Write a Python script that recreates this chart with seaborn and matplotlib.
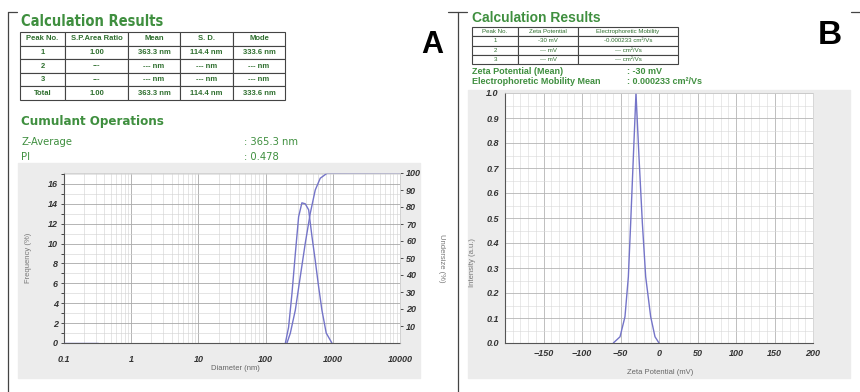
import numpy as np
import pandas as pd
import matplotlib
matplotlib.use("Agg")
import matplotlib.pyplot as plt
import seaborn as sns
from matplotlib.lines import Line2D
from matplotlib.patches import Rectangle
from matplotlib.ticker import MultipleLocator, LogLocator, NullFormatter
from matplotlib import font_manager

# ---- data ----
# A: particle size distribution
freq_size = [197, 220, 247, 277, 310, 347, 389, 437, 490, 548, 614, 689, 798, 970]
freq_val = [0.0, 1.6, 5.0, 9.0, 12.7, 14.1, 14.0, 13.4, 10.7, 8.3, 5.7, 3.3, 1.0, 0.0]
cum_size = [208, 233, 277, 328, 389, 462, 548, 650, 817, 10000]
cum_val = [0.0, 5.7, 19.4, 39.0, 58.6, 76.3, 90.0, 96.9, 99.8, 100.0]
cum_low_size = [0.1, 0.32]
cum_low_val = [0.0, 0.0]

size_ticks = [0.1, 1, 10, 100, 1000, 10000]
size_labels = ["0.1", "1", "10", "100", "1000", "10000"]

peak_cols = ["Peak No.", "S.P.Area Ratio", "Mean", "S. D.", "Mode"]
peak_rows = [
    ["1", "1.00", "363.3 nm", "114.4 nm", "333.6 nm"],
    ["2", "---", "--- nm", "--- nm", "--- nm"],
    ["3", "---", "--- nm", "--- nm", "--- nm"],
    ["Total", "1.00", "363.3 nm", "114.4 nm", "333.6 nm"],
]
z_average = "365.3 nm"
pdi = "0.478"

# B: zeta potential distribution
zeta_mv = [-59.3, -50.6, -44.2, -39.8, -36.8, -33.3, -29.9, -26.0, -21.6, -17.3, -10.8, -5.2, 0.0]
zeta_int = [0.0, 0.025, 0.105, 0.265, 0.479, 0.745, 1.0, 0.745, 0.479, 0.265, 0.105, 0.025, 0.0]

zeta_cols = ["Peak No.", "Zeta Potential", "Electrophoretic Mobility"]
zeta_rows = [
    ["1", "-30 mV", "-0.000233 cm\u00b2/Vs"],
    ["2", "--- mV", "--- cm\u00b2/Vs"],
    ["3", "--- mV", "--- cm\u00b2/Vs"],
]
zeta_mean = "-30 mV"
mobility_mean = "0.000233 cm\u00b2/Vs"

# ---- style ----
sns.set_style("white")
plt.rcParams['font.family'] = ['Liberation Sans', 'DejaVu Sans']

W, H = 860, 392
GREEN = '#3f8f3f'
LINE = '#7474c8'
TICK = '#333333'

# a narrow face for panel A's header, if one is installed
names = {f.name for f in font_manager.fontManager.ttflist}
if 'Liberation Sans Narrow' in names:
    NARROW = dict(family='Liberation Sans Narrow')
else:
    NARROW = dict(family='DejaVu Sans', fontstretch='condensed')

fig = plt.figure(figsize=(W / 100, H / 100), dpi=100)
fig.patch.set_facecolor('white')


def fx(x):
    return x / W


def fy(y):
    return 1 - y / H


def box(x0, y0, x1, y1):
    return [fx(x0), fy(y1), fx(x1 - x0), (y1 - y0) / H]


def txt(x, y, s, **kw):
    kw.setdefault('va', 'center')
    return fig.text(fx(x), fy(y), s, **kw)


def line(xs, ys, **kw):
    fig.add_artist(Line2D([fx(v) for v in xs], [fy(v) for v in ys],
                          transform=fig.transFigure, color='#444444', lw=0.9, **kw))


# grey panels behind the charts
for (x0, y0, x1, y1) in [(18, 163, 420, 378), (468, 90, 850, 378)]:
    fig.add_artist(Rectangle((fx(x0), fy(y1)), fx(x1 - x0), (y1 - y0) / H,
                             transform=fig.transFigure, color='#ececec', zorder=-5))

# panel frames
line([8, 8], [12, 392])
line([8, 17], [12, 12])
line([458, 458], [12, 392])
line([448, 467], [12, 12])
line([851, 860], [12, 12])


def style_ticks(ax):
    for lab in ax.get_xticklabels() + ax.get_yticklabels():
        lab.set_fontsize(6.5)
        lab.set_fontweight('bold')
        lab.set_fontstyle('italic')
        lab.set_color(TICK)
    ax.tick_params(length=2.5, width=0.6, colors=TICK, pad=2)


def style_spines(ax):
    for s in ['top', 'right']:
        ax.spines[s].set_color('#cfcfcf')
        ax.spines[s].set_linewidth(0.5)
    for s in ['left', 'bottom']:
        ax.spines[s].set_color('#555555')
        ax.spines[s].set_linewidth(0.8)


# ================= A =================
txt(21, 22, "Calculation Results", color=GREEN, fontsize=10.5, fontweight='bold', **NARROW)

tA = fig.add_axes(box(20, 32, 285, 100))
tA.axis('off')
tab = tA.table(cellText=peak_rows, colLabels=peak_cols, bbox=[0, 0, 1, 1],
               cellLoc='center', colWidths=[45, 63, 52, 53, 52])
tab.auto_set_font_size(False)
tab.set_fontsize(5.5)
for cell in tab.get_celld().values():
    cell.set_edgecolor('#444444')
    cell.set_linewidth(0.8)
    cell.get_text().set_color('#2f6f2f')
    cell.get_text().set_fontweight('bold')

txt(21, 122, "Cumulant Operations", color=GREEN, fontsize=9.5, fontweight='bold', **NARROW)
txt(21, 142, "Z-Average", color=GREEN, fontsize=8, **NARROW)
txt(244, 142, ": " + z_average, color=GREEN, fontsize=8, **NARROW)
txt(21, 157, "PI", color=GREEN, fontsize=8, **NARROW)
txt(244, 157, ": " + pdi, color=GREEN, fontsize=8, **NARROW)
txt(421, 45, "A", color='black', fontsize=22, fontweight='bold')

axA = fig.add_axes(box(64, 173, 400, 343))
axA.set_facecolor('white')
sns.lineplot(x=freq_size, y=freq_val, ax=axA, color=LINE, lw=1.0)
axA.set_xscale('log')
axA.set_xlim(0.1, 10000)
axA.set_ylim(0, 17.1)
axA.set_xticks(size_ticks)
axA.set_xticklabels(size_labels)
axA.xaxis.set_minor_locator(LogLocator(base=10, subs=np.arange(2, 10)))
axA.xaxis.set_minor_formatter(NullFormatter())
axA.set_yticks(np.arange(0, 17, 2))
axA.yaxis.set_minor_locator(MultipleLocator(1))
axA.grid(True, which='major', color='#a8a8a8', lw=0.6)
axA.grid(True, which='minor', color='#d2d2d2', lw=0.4)
axA.set_xlabel("")
axA.set_ylabel("")
style_ticks(axA)
axA.tick_params(axis='x', pad=6)
style_spines(axA)

axA2 = axA.twinx()
sns.lineplot(x=cum_size, y=cum_val, ax=axA2, color=LINE, lw=1.0)
sns.lineplot(x=cum_low_size, y=cum_low_val, ax=axA2, color=LINE, lw=1.0)
axA2.set_ylim(0, 100)
axA2.set_yticks(np.arange(10, 101, 10))
axA2.set_ylabel("")
axA2.grid(False)
style_ticks(axA2)
style_spines(axA2)
axA2.spines['left'].set_visible(False)
axA2.spines['bottom'].set_visible(False)

txt(28, 258, "Frequency (%)", rotation=90, ha='center', fontsize=5.5, color='#777777')
txt(441, 258, "Undersize (%)", rotation=270, ha='center', fontsize=5.5, color='#777777')
txt(235, 368, "Diameter (nm)", ha='center', fontsize=5.5, color='#666666')

# ================= B =================
txt(472, 18, "Calculation Results", color=GREEN, fontsize=10, fontweight='bold')

tB = fig.add_axes(box(472, 27, 678, 64))
tB.axis('off')
tab2 = tB.table(cellText=zeta_rows, colLabels=zeta_cols, bbox=[0, 0, 1, 1],
                cellLoc='center', colWidths=[46, 60, 100])
tab2.auto_set_font_size(False)
tab2.set_fontsize(4.4)
for cell in tab2.get_celld().values():
    cell.set_edgecolor('#444444')
    cell.set_linewidth(0.8)
    cell.get_text().set_color('#2f6f2f')

txt(472, 71, "Zeta Potential (Mean)", color=GREEN, fontsize=6.5, fontweight='bold')
txt(627, 71, ": " + zeta_mean, color=GREEN, fontsize=6.5, fontweight='bold')
txt(472, 81, "Electrophoretic Mobility Mean", color=GREEN, fontsize=6.5, fontweight='bold')
txt(627, 81, ": " + mobility_mean, color=GREEN, fontsize=6.5, fontweight='bold')
txt(818, 35, "B", color='black', fontsize=24, fontweight='bold')

axB = fig.add_axes(box(505, 93, 813, 343))
axB.set_facecolor('white')
sns.lineplot(x=zeta_mv, y=zeta_int, ax=axB, color=LINE, lw=1.0)
axB.set_xlim(-200, 200)
axB.set_ylim(0, 1.0)
axB.set_xticks(np.arange(-150, 201, 50))
axB.xaxis.set_minor_locator(MultipleLocator(10))
axB.set_yticks(np.round(np.arange(0, 1.01, 0.1), 1))
axB.set_yticklabels([f"{v:.1f}" for v in np.arange(0, 1.01, 0.1)])
axB.yaxis.set_minor_locator(MultipleLocator(0.05))
axB.grid(True, which='major', color='#b4b4b4', lw=0.6)
axB.grid(True, which='minor', color='#d8d8d8', lw=0.4)
axB.set_xlabel("")
axB.set_ylabel("")
style_ticks(axB)
style_spines(axB)

txt(472, 263, "Intensity (a.u.)", rotation=90, ha='center', fontsize=5.5, color='#777777')
txt(660, 373, "Zeta Potential (mV)", ha='center', fontsize=5.5, color='#666666')

fig.savefig("out.png", dpi=100)
